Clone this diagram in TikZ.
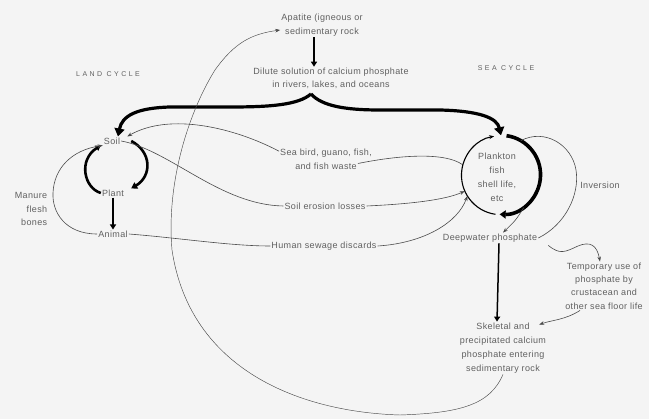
\documentclass[tikz,border=0pt]{standalone}
\usepackage{fontspec}
\setmainfont{Liberation Sans}[LetterSpace=4]
\newfontfamily\capsfont{Liberation Sans}[LetterSpace=35]
\usetikzlibrary{arrows.meta}
\definecolor{bgc}{HTML}{F4F4F4}
\definecolor{txt}{HTML}{606060}
\definecolor{ln}{HTML}{4A4A4A}
\begin{document}
\begin{tikzpicture}[x=1pt,y=-1pt,
  lbl/.style={font=\fontsize{9}{13.5}\selectfont, text=txt, align=center, inner sep=1pt},
  caps/.style={font=\capsfont\fontsize{7}{9}\selectfont, text=txt, inner sep=1pt},
  thinln/.style={draw=ln, line width=0.6pt},
  thinarr/.style={thinln, -{Stealth[length=5pt,width=3.6pt]}},
  hairln/.style={draw=ln, line width=0.45pt, -{Stealth[length=5pt,width=3.6pt]}},
  bigarr/.style={draw=black, line width=3.2pt, -{Triangle[length=8pt,width=10pt]}},
  medarr/.style={draw=black, line width=1.8pt, -{Triangle[length=5pt,width=6pt]}},
  ringarr/.style={draw=black, line width=1.1pt, -{Stealth[length=5pt,width=4pt]}},
]
\fill[bgc] (0,0) rectangle (649,419);
\useasboundingbox (0,0) rectangle (649,419);

% ---- nodes
\node[lbl] (apatite) at (322,25) {Apatite (igneous or\\sedimentary rock};
\node[lbl] (dilute) at (331,78.5) {Dilute solution of calcium phosphate\\in rivers, lakes, and oceans};
\node[caps] (land) at (108,74) {LAND CYCLE};
\node[caps] (sea) at (506,68) {SEA CYCLE};
\node[lbl] (soil) at (112,141) {Soil};
\node[lbl] (plant) at (113,193) {Plant};
\node[lbl] (animal) at (113,234) {Animal};
\node[lbl, align=right] (manure) at (31,209) {Manure\\flesh\\bones};
\node[lbl] (seabird) at (326,159.5) {Sea bird, guano, fish,\\and fish waste};
\node[lbl] (erosion) at (325,206) {Soil erosion losses};
\node[lbl] (sewage) at (324,246) {Human sewage discards};
\node[circle, minimum size=79pt, inner sep=0pt] (plank) at (501,175) {};
\node[lbl, font=\fontsize{9}{14}\selectfont] (planktxt) at (497,177.5) {Plankton\\fish\\shell life,\\etc};
\node[lbl] (inversion) at (600,185) {Inversion};
\node[lbl] (deep) at (490,238) {Deepwater phosphate};
\node[lbl, font=\fontsize{9}{13.3}\selectfont] (temp) at (604,286) {Temporary use of\\phosphate by\\crustacean and\\other sea floor life};
\node[lbl, font=\fontsize{9}{14}\selectfont] (skel) at (503,348) {Skeletal and\\precipitated calcium\\phosphate entering\\sedimentary rock};
\coordinate (peak) at (311,94);

% ---- thick flows
\draw[medarr, line width=2.6pt] ([xshift=-8pt]apatite.south) -- ([xshift=-8pt]apatite.south |- dilute.north);
\draw[bigarr] (peak) .. controls (298,105) and (270,107) .. (230,107) -- (170,107)
   .. controls (136,108) and (122,116) .. ([xshift=6pt]soil.north);
\draw[bigarr] (peak) .. controls (322,106) and (345,110) .. (380,110) -- (440,110)
   .. controls (480,111) and (497,118) .. (plank.north);

% ---- land cycle
\draw[draw=black, line width=2.6pt, -{Triangle[length=6pt,width=7pt]}]
   ([xshift=10pt]soil.east) .. controls (152,152) and (152,176) .. ([xshift=6pt]plant.north east);
\draw[draw=black, line width=2.6pt, -{Triangle[length=5pt,width=6pt]}]
   (plant.west) .. controls (84,188) and (78,160) .. ([xshift=-2pt]soil.south west);
\draw[medarr] (plant.south) -- (animal.north);
\draw[thinarr] (animal.west) .. controls (65,234) and (52,212) .. (53,193)
   .. controls (54,168) and (72,150) .. (soil.south west);

% ---- thin connectors
\draw[thinarr] (seabird.170) .. controls (235,128) and (170,112) .. ([xshift=6pt]soil.north east);
\draw[thinln] ([xshift=-15pt,yshift=-4pt]seabird.east) .. controls (400,155) and (445,152) .. (plank.165);
\draw[thinln] (soil.east) .. controls (170,150) and (220,205) .. (erosion.west);
\draw[thinarr] (erosion.east) .. controls (410,204) and (445,200) .. (plank.204);
\draw[thinln] (animal.east) .. controls (180,238) and (230,246) .. (sewage.west);
\draw[thinarr] (sewage.east) .. controls (425,243) and (458,222) .. (plank.212);

% ---- plankton ring
\draw[ringarr] (plank.262) arc[start angle=262, end angle=100, radius=39.5pt];
\draw[draw=black, line width=3.6pt, -{Triangle[length=6pt,width=8pt]}] (plank.82) arc[start angle=82, end angle=-92, radius=39.5pt];

% ---- sea side
\draw[thinarr] (plank.-55) .. controls (516,220) .. ([xshift=13pt]deep.north);
\draw[thinln] (deep.east) .. controls (565,225) and (580,195) .. (576,170)
   .. controls (572,145) and (545,128) .. (plank.60);
\draw[medarr, line width=1.5pt] ([xshift=9pt]deep.south) -- ([xshift=-6pt]skel.north);
\draw[thinarr] ([xshift=10pt,yshift=-2pt]deep.south east) .. controls (560,255) and (565,252) .. (578,246)
   .. controls (590,241) and (597,245) .. ([xshift=-4pt]temp.north);
\draw[thinarr] ([xshift=-24pt]temp.south) .. controls (565,320) and (552,320) .. ([xshift=-8pt,yshift=-3pt]skel.north east);

% ---- return to rock
\draw[hairln] (skel.south) .. controls (490,405) and (460,413) .. (400,415)
   .. controls (300,412) and (190,370) .. (172,250)
   .. controls (166,180) and (190,110) .. (215,70)
   .. controls (235,42) and (252,34) .. ([yshift=-5pt]apatite.west);
\end{tikzpicture}
\end{document}
